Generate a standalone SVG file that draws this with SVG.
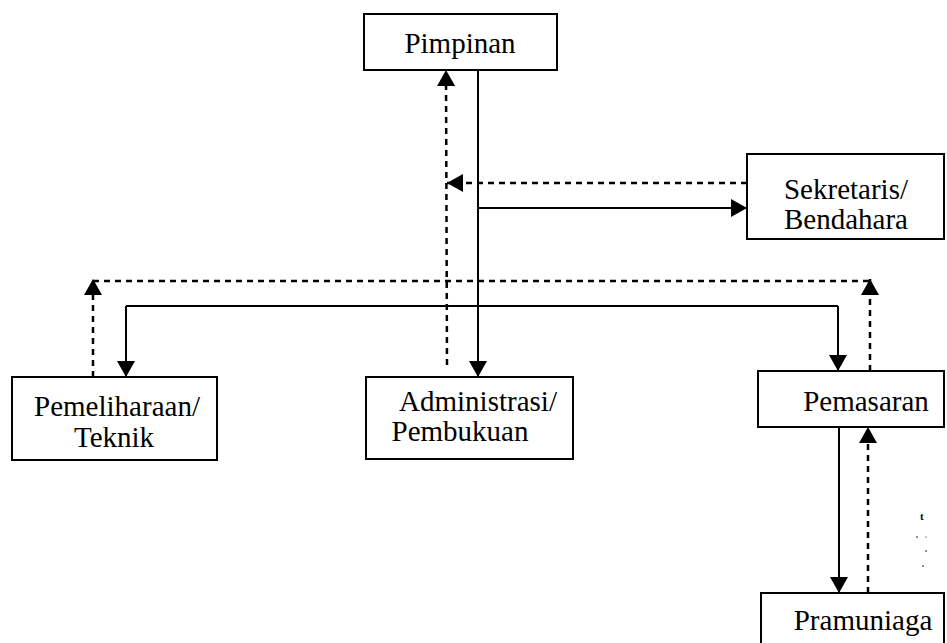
<svg xmlns="http://www.w3.org/2000/svg" width="947" height="643" viewBox="0 0 947 643">
<style>
.box{fill:#fff;stroke:#000;stroke-width:2}
.t{font-size:29px;fill:#000;text-anchor:middle}
.s{fill:none;stroke:#000;stroke-width:2}
.d{fill:none;stroke:#000;stroke-width:2.5;stroke-dasharray:6 5}
</style>
<defs>
<marker id="ah" viewBox="0 0 16 18" refX="16" refY="9" markerWidth="16" markerHeight="18" markerUnits="userSpaceOnUse" orient="auto">
<path d="M0,0 L16,9 L0,18 z" fill="#000"/>
</marker>
</defs>
<rect width="947" height="643" fill="#fff"/>
<g id="connectors">
<path class="d" d="M447,365 L446,70" marker-end="url(#ah)"/>
<path class="s" d="M478,70 L478,377" marker-end="url(#ah)"/>
<path class="d" d="M747,183 L447,183" marker-end="url(#ah)"/>
<path class="s" d="M478,208 L747,208" marker-end="url(#ah)"/>
<path class="s" d="M126,306 L838,306"/>
<path class="s" d="M126,306 L126,377" marker-end="url(#ah)"/>
<path class="s" d="M838,306 L838,371" marker-end="url(#ah)"/>
<path class="d" d="M93,281 L870,281"/>
<path class="d" d="M93,377 L93,279" marker-end="url(#ah)"/>
<path class="d" d="M870,371 L870,279" marker-end="url(#ah)"/>
<path class="s" d="M839,427 L839,593" marker-end="url(#ah)"/>
<path class="d" d="M868,593 L868,427" marker-end="url(#ah)"/>
</g>
<g font-family="Liberation Serif, DejaVu Serif, serif">
<g id="pimpinan">
<rect class="box" x="364" y="14" width="193" height="56"/>
<text class="t" x="460" y="53">Pimpinan</text>
</g>
<g id="sekretaris">
<rect class="box" x="747" y="154" width="197" height="85"/>
<text class="t" x="846" y="199">Sekretaris/</text>
<text class="t" x="846" y="229">Bendahara</text>
</g>
<g id="pemeliharaan">
<rect class="box" x="12" y="377" width="205" height="83"/>
<text class="t" x="117" y="416">Pemeliharaan/</text>
<text class="t" x="114" y="447">Teknik</text>
</g>
<g id="administrasi">
<rect class="box" x="366" y="377" width="207" height="82"/>
<text class="t" x="478" y="411">Administrasi/</text>
<text class="t" x="460" y="441">Pembukuan</text>
</g>
<g id="pemasaran">
<rect class="box" x="758" y="371" width="186" height="56"/>
<text class="t" x="866" y="411">Pemasaran</text>
</g>
<g id="pramuniaga">
<rect class="box" x="761" y="593" width="183" height="60"/>
<text class="t" x="863" y="630">Pramuniaga</text>
</g>
<g id="marks">
<text x="920" y="520" font-size="11" font-weight="bold">t</text>
<circle cx="917" cy="537" r="0.8" fill="#000"/>
<circle cx="926" cy="537" r="0.6" fill="#000"/>
<circle cx="926" cy="551" r="0.8" fill="#000"/>
<circle cx="923" cy="566" r="0.8" fill="#000"/>
</g>
</g>
</svg>
